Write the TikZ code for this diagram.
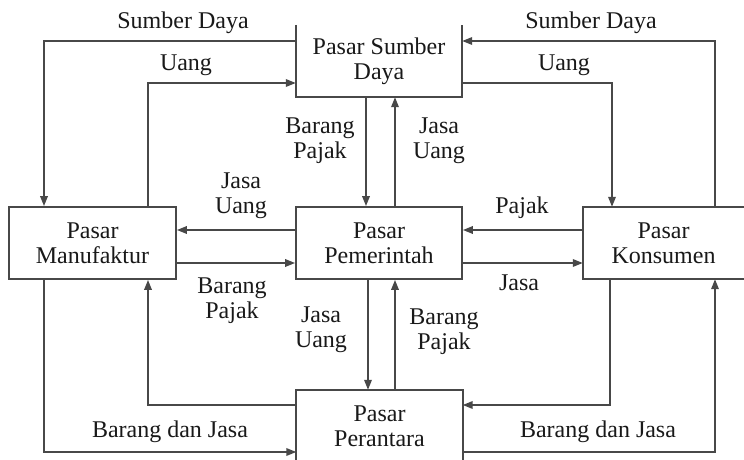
\documentclass[tikz,border=0pt]{standalone}
\usepackage{fontspec}
\setmainfont{Liberation Serif}
\usetikzlibrary{arrows.meta}
\definecolor{linegray}{RGB}{72,72,72}
\definecolor{txt}{RGB}{25,25,25}
\begin{document}
\begin{tikzpicture}[x=1pt,y=-1pt,
  ln/.style={draw=linegray,line width=1.8pt},
  arr/.style={ln,-{Triangle[length=10pt,width=7.5pt]}},
  mkt/.style={draw=none,inner sep=0pt,align=center,font=\fontsize{24}{25}\selectfont,text=txt},
  mktbox/.style={mkt,draw=linegray,line width=1.8pt},
  lbl/.style={inner sep=0pt,align=center,font=\fontsize{24}{25}\selectfont,text=txt}]
\useasboundingbox (0,0) rectangle (744,460);
\clip (0,0) rectangle (744,460);
\fill[white] (0,0) rectangle (744,460);

% markets
\node[mkt, minimum width=166, minimum height=72] (sd) at (379,61) {Pasar Sumber\\Daya};
\node[mktbox, minimum width=167, minimum height=72] (man) at (92.5,243) {Pasar\\Manufaktur};
\node[mktbox, minimum width=166, minimum height=72] (pem) at (379,243) {Pasar\\Pemerintah};
\node[mkt, minimum width=161, minimum height=72] (kon) at (663.5,243) {Pasar\\Konsumen};
\node[mkt, minimum width=166, minimum height=72] (per) at (379.5,426) {Pasar\\Perantara};
\draw[ln] (sd.north west) -- (sd.south west) -- (sd.south east) -- (sd.north east);
\draw[ln] (kon.north east) -- (kon.north west) -- (kon.south west) -- (kon.south east);
\draw[ln] (per.south west) -- (per.north west) -- (per.north east) -- (per.south east);

% corner coordinates
\coordinate (a1) at (44,41);
\coordinate (a2) at (148,83);
\coordinate (a3) at (715,41);
\coordinate (a4) at (612,83);
\coordinate (a5) at (366,0);
\coordinate (a6) at (395,0);
\coordinate (a7) at (0,230);
\coordinate (a8) at (0,263);
\coordinate (a9) at (368,0);
\coordinate (b1) at (148,405);
\coordinate (b2) at (44,452);
\coordinate (b3) at (610,405);
\coordinate (b4) at (715,452);

% connectors
\draw[arr] (a1 -| sd.west) -- (a1) -- (a1 |- man.north);
\draw[arr] (a2 |- man.north) -- (a2) -- (a2 -| sd.west);
\draw[arr] (a3 |- kon.north) -- (a3) -- (a3 -| sd.east);
\draw[arr] (a4 -| sd.east) -- (a4) -- (a4 |- kon.north);
\draw[arr] (a5 |- sd.south) -- (a5 |- pem.north);
\draw[arr] (a6 |- pem.north) -- (a6 |- sd.south);
\draw[arr] (a7 -| pem.west) -- (a7 -| man.east);
\draw[arr] (a8 -| man.east) -- (a8 -| pem.west);
\draw[arr] (a7 -| kon.west) -- (a7 -| pem.east);
\draw[arr] (a8 -| pem.east) -- (a8 -| kon.west);
\draw[arr] (a9 |- pem.south) -- (a9 |- per.north);
\draw[arr] (a6 |- per.north) -- (a6 |- pem.south);
\draw[arr] (b1 -| per.west) -- (b1) -- (b1 |- man.south);
\draw[arr] (b2 |- man.south) -- (b2) -- (b2 -| per.west);
\draw[arr] (b3 |- kon.south) -- (b3) -- (b3 -| per.east);
\draw[arr] (b4 -| per.east) -- (b4) -- (b4 |- kon.south);

% labels
\node[lbl] (l1) at (183,23) {Sumber Daya};
\node[lbl] (l2) at (186,65) {Uang};
\node[lbl] (l3) at (591,23) {Sumber Daya};
\node[lbl] (l4) at (564,65) {Uang};
\node[lbl] (l5) at (320,141) {Barang\\Pajak};
\node[lbl] (l6) at (439,141) {Jasa\\Uang};
\node[lbl] (l7) at (241,196) {Jasa\\Uang};
\node[lbl] (l8) at (522,208) {Pajak};
\node[lbl] (l9) at (232,301) {Barang\\Pajak};
\node[lbl] (l10) at (519,283) {Jasa};
\node[lbl] (l11) at (321,330) {Jasa\\Uang};
\node[lbl] (l12) at (444,332) {Barang\\Pajak};
\node[lbl] (l13) at (170,432) {Barang dan Jasa};
\node[lbl] (l14) at (598,432) {Barang dan Jasa};
\end{tikzpicture}
\end{document}
